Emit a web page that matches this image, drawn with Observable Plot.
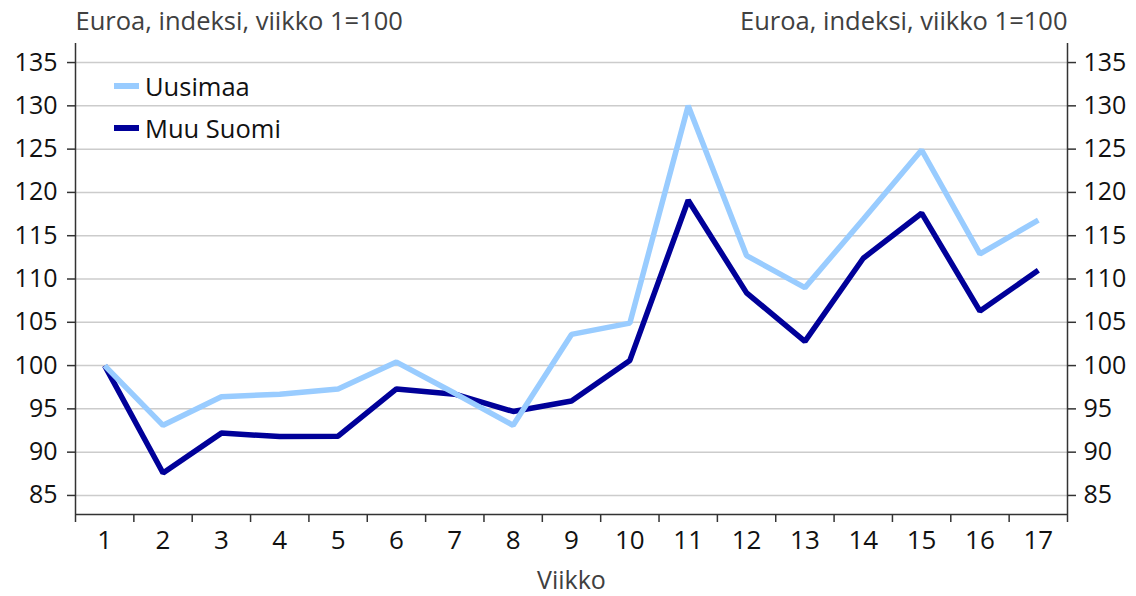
<!DOCTYPE html>
<html>
<head>
<meta charset="utf-8">
<script src="https://cdn.jsdelivr.net/npm/d3@7"></script>
<script src="https://cdn.jsdelivr.net/npm/@observablehq/plot@0.6"></script>
<style>
  html, body { margin: 0; padding: 0; background: #fff; }
  #wrap { position: relative; width: 1136px; height: 596px; font-family: "Open Sans", sans-serif; }
  #legend { position: absolute; left: 114px; top: 65px; font-size: 25.5px; color: #111; }
  .li { display: flex; align-items: center; height: 42px; }
  .sw { width: 25px; height: 6px; margin-right: 6px; }
</style>
</head>
<body>
<div id="wrap"></div>
<script>
const weeks = [1,2,3,4,5,6,7,8,9,10,11,12,13,14,15,16,17];
const uusimaa = [100, 93.1, 96.4, 96.7, 97.3, 100.4, 96.8, 93.1, 103.6, 104.9, 130.0, 112.7, 109.0, 116.9, 124.9, 112.9, 116.8];
const muuSuomi = [100, 87.6, 92.2, 91.8, 91.85, 97.3, 96.7, 94.7, 95.9, 100.6, 119.1, 108.4, 102.8, 112.4, 117.6, 106.3, 111.0];
const seriesNames = ["Uusimaa", "Muu Suomi"];
const colors = ["#99ccff", "#000099"];
const yTicks = [85, 90, 95, 100, 105, 110, 115, 120, 125, 130, 135];
const yTitle = "Euroa, indeksi, viikko 1=100";
const xTitle = "Viikko";

const data = [];
weeks.forEach((w, i) => {
  data.push({week: w, value: muuSuomi[i], series: seriesNames[1]});
});
weeks.forEach((w, i) => {
  data.push({week: w, value: uusimaa[i], series: seriesNames[0]});
});

const yDomain = [82.8, 137.2];
const xDomain = [0.5, 17.5];
const boundaries = d3.range(0.5, 18, 1);

const chart = Plot.plot({
  width: 1136,
  height: 596,
  marginLeft: 75,
  marginRight: 69,
  marginTop: 43,
  marginBottom: 82,
  style: {fontFamily: "Open Sans, sans-serif", fontSize: "25px", color: "#111", background: "#fff"},
  x: {domain: xDomain, axis: null},
  y: {domain: yDomain, axis: null},
  color: {domain: seriesNames, range: colors},
  marks: [
    Plot.gridY(yTicks, {stroke: "#cccccc", strokeOpacity: 1, strokeWidth: 1.5}),
    Plot.axisY(yTicks, {anchor: "left", tickSize: 8, tickPadding: 10, fontSize: 25, label: null, stroke: "#333", strokeWidth: 1.5}),
    Plot.axisY(yTicks, {anchor: "right", tickSize: 8, tickPadding: 8, fontSize: 25, label: null, stroke: "#333", strokeWidth: 1.5}),
    Plot.axisX(boundaries, {anchor: "bottom", tickSize: 8, tickFormat: () => "", label: null, stroke: "#333", strokeWidth: 1.5}),
    Plot.axisX(weeks, {anchor: "bottom", tickSize: 0, tickPadding: 16, fontSize: 26, label: null, tickFormat: d => String(d)}),
    Plot.ruleX(xDomain, {stroke: "#333", strokeWidth: 1.5}),
    Plot.ruleY([yDomain[0]], {stroke: "#333", strokeWidth: 1.5}),
    Plot.line(data, {x: "week", y: "value", z: "series", stroke: "series", strokeWidth: 5.5, strokeLinejoin: "miter", strokeLinecap: "butt"}),
    Plot.text([yTitle], {frameAnchor: "top-left", textAnchor: "start", lineAnchor: "middle", dy: -22, fontSize: 25.5, fill: "#404040"}),
    Plot.text([yTitle], {frameAnchor: "top-right", textAnchor: "end", lineAnchor: "middle", dy: -22, fontSize: 25.5, fill: "#404040"}),
    Plot.text([xTitle], {frameAnchor: "bottom", lineAnchor: "middle", dy: 66, fontSize: 25, fill: "#404040"})
  ]
});

const wrap = document.getElementById("wrap");
wrap.appendChild(chart);

const legend = document.createElement("div");
legend.id = "legend";
seriesNames.forEach((name, i) => {
  const row = document.createElement("div");
  row.className = "li";
  const sw = document.createElement("span");
  sw.className = "sw";
  sw.style.background = colors[i];
  const t = document.createElement("span");
  t.textContent = name;
  row.appendChild(sw);
  row.appendChild(t);
  legend.appendChild(row);
});
wrap.appendChild(legend);
</script>
</body>
</html>
